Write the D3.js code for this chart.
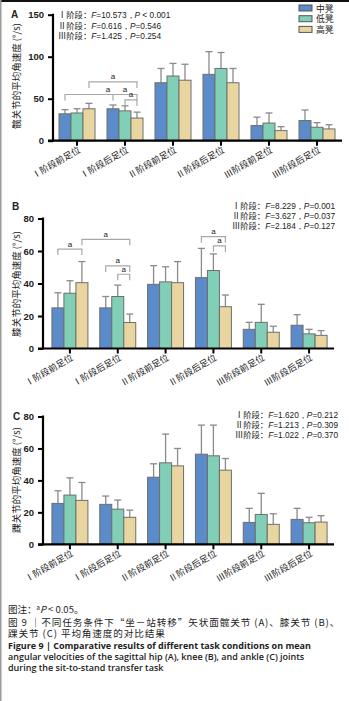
<!DOCTYPE html>
<html>
<head>
<meta charset="utf-8">
<script src="https://cdn.jsdelivr.net/npm/d3@7"></script>
<style>
  html, body { margin: 0; padding: 0; background: #fff; }
  svg { display: block; }
  .cjk { font-family: "Noto Sans CJK SC", "Noto Sans", sans-serif; }
  .num { font-family: "Liberation Sans", Arial, sans-serif; }
</style>
</head>
<body>
<div id="chart-container"></div>
<script>
// categories and groups
var categories = ["Ⅰ阶段前足位", "Ⅰ阶段后足位", "Ⅱ阶段前足位", "Ⅱ阶段后足位", "Ⅲ阶段前足位", "Ⅲ阶段后足位"];
var stools = ["中凳", "低凳", "高凳"];

// A: hip mean angular velocity (°/s), mean and SD
var hipMid = [32, 38, 69, 79, 18, 24];
var hipLow = [33, 35.5, 77, 86, 21, 16];
var hipHigh = [38, 27, 72, 69, 12, 14];
var hipMidSd = [5, 4.5, 17, 27, 10, 12.5];
var hipLowSd = [5, 6, 15, 19, 12, 5.5];
var hipHighSd = [6.5, 7, 19, 17, 4.7, 5];

// B: knee
var kneeMid = [25, 25, 39.5, 43.6, 11.8, 14.3];
var kneeLow = [34, 32, 41, 48, 16.1, 9];
var kneeHigh = [40.5, 16, 40.5, 25.7, 10, 8.1];
var kneeMidSd = [9.3, 7, 11.5, 18, 4.3, 6.5];
var kneeLowSd = [7.7, 7, 9.3, 10.2, 11.1, 2.8];
var kneeHighSd = [13, 5.2, 13, 7.2, 3.7, 2.9];

// C: ankle
var ankleMid = [25.6, 25, 42, 56.4, 13.7, 15.6];
var ankleLow = [30.8, 22, 51, 55.4, 18.7, 13.5];
var ankleHigh = [27.5, 16.9, 49.1, 46.4, 12.5, 13.9];
var ankleMidSd = [7.9, 5.2, 8.4, 18.2, 8.8, 6.9];
var ankleLowSd = [10.8, 5.7, 18, 19.2, 13.2, 3.4];
var ankleHighSd = [11.2, 4.5, 10.9, 7.3, 6.6, 4];

// axis ticks
var hipTicks = [0, 50, 100, 150];
var kneeTicks = [0, 20, 40, 60, 80];
var ankleTicks = [0, 20, 40, 60, 80];

// ANOVA results per stage
var stageNames = ["Ⅰ阶段：", "Ⅱ阶段：", "Ⅲ阶段："];
var hipF = ["10.573", "0.616", "1.425"];
var hipP = [" < 0.001", "=0.546", "=0.254"];
var kneeF = ["8.229", "3.627", "2.184"];
var kneeP = ["=0.001", "=0.037", "=0.127"];
var ankleF = ["1.620", "1.213", "1.022"];
var ankleP = ["=0.212", "=0.309", "=0.370"];

// significance brackets: [category, stool] -> [category, stool], level in data units
var hipSig = [
  {from: [0, 2], to: [1, 2], level: 70, label: "a"},
  {from: [0, 0], to: [1, 0], level: 55, label: "a", labelAt: [1, -0.45]},
  {from: [1, 0], to: [1, 2], level: 55, label: "a", labelAt: [1, 1], noLeftDrop: true},
  {from: [1, 1], to: [1, 2], level: 48.5, label: "a"}
];
var kneeSig = [
  {from: [0, 0], to: [0, 2], level: 61.2, label: "a"},
  {from: [0, 2], to: [1, 2], level: 67.2, label: "a"},
  {from: [1, 0], to: [1, 2], level: 50.8, label: "a"},
  {from: [1, 1], to: [1, 2], level: 45.7, label: "a"},
  {from: [3, 0], to: [3, 2], level: 68.8, label: "a"},
  {from: [3, 1], to: [3, 2], level: 63.1, label: "a"}
];
var ankleSig = [];

var colors = ["#5b8bc9", "#80cfb6", "#e9d5a0"];

var captionLines = [
  "图 9 ｜不同任务条件下“坐－站转移”矢状面髋关节 (A)、膝关节 (B)、",
  "踝关节 (C) 平均角速度的对比结果"
];
var captionEn = [
  "Figure 9  |  Comparative results of different task conditions on mean",
  "angular velocities of the sagittal hip (A), knee (B), and ankle (C) joints",
  "during the sit-to-stand transfer task"
];

var svgWidth = 349, svgHeight = 701;

var svg = d3.select("#chart-container")
  .append("svg")
  .attr("width", svgWidth)
  .attr("height", svgHeight);

// page frame
svg.append("rect").attr("x", 0).attr("y", 0).attr("width", svgWidth).attr("height", 2).attr("fill", "#111");
svg.append("rect").attr("x", 0).attr("y", 0).attr("width", 1.5).attr("height", svgHeight).attr("fill", "#9a9a9a");

function panel(opt) {
  var g = svg.append("g");
  var x0 = d3.scaleBand().domain(categories).range([opt.left, opt.right]);
  var x1 = d3.scaleBand().domain(stools).range([0, 36]);
  var y = d3.scaleLinear().domain(opt.domain).range([opt.bottom, opt.top]);
  var off = (x0.bandwidth() - 36) / 2;
  function cx(ci, si) { return x0(categories[ci]) + off + x1(stools[si]) + x1.bandwidth() / 2; }

  var rows = [];
  categories.forEach(function(c, i) {
    stools.forEach(function(s, j) {
      rows.push({cat: c, stool: s, si: j, mean: opt.means[j][i], sd: opt.sds[j][i]});
    });
  });

  // error bars (upper only)
  var eb = g.append("g").attr("stroke", "#8a8a8a").attr("stroke-width", 1.3);
  eb.selectAll("line.v").data(rows).enter().append("line")
    .attr("x1", function(d) { return x0(d.cat) + off + x1(d.stool) + x1.bandwidth() / 2; })
    .attr("x2", function(d) { return x0(d.cat) + off + x1(d.stool) + x1.bandwidth() / 2; })
    .attr("y1", function(d) { return y(d.mean); })
    .attr("y2", function(d) { return y(d.mean + d.sd); });
  eb.selectAll("line.c").data(rows).enter().append("line")
    .attr("x1", function(d) { return x0(d.cat) + off + x1(d.stool) + x1.bandwidth() / 2 - 3.5; })
    .attr("x2", function(d) { return x0(d.cat) + off + x1(d.stool) + x1.bandwidth() / 2 + 3.5; })
    .attr("y1", function(d) { return y(d.mean + d.sd); })
    .attr("y2", function(d) { return y(d.mean + d.sd); });

  // bars
  g.selectAll("rect.bar").data(rows).enter().append("rect")
    .attr("x", function(d) { return x0(d.cat) + off + x1(d.stool); })
    .attr("y", function(d) { return y(d.mean); })
    .attr("width", x1.bandwidth())
    .attr("height", function(d) { return y(0) - y(d.mean); })
    .attr("fill", function(d) { return colors[d.si]; })
    .attr("stroke", "#6e6e6e")
    .attr("stroke-width", 1);

  // y axis
  var ya = g.append("g")
    .attr("transform", "translate(" + opt.axisX + ",0)")
    .call(d3.axisLeft(y).tickValues(opt.ticks).tickSize(5).tickPadding(4));
  ya.select(".domain").attr("stroke", "#000").attr("stroke-width", 2.2)
    .attr("d", "M0," + (y(0) + 1) + "V" + (opt.top - 1));
  ya.selectAll(".tick line").attr("stroke", "#000").attr("stroke-width", 2);
  ya.selectAll(".tick text").attr("class", "num").attr("font-size", 9.5).attr("font-weight", "bold").attr("fill", "#222");

  // x axis
  var xa = g.append("g")
    .attr("transform", "translate(0," + y(0) + ")")
    .call(d3.axisBottom(x0).tickSize(5).tickFormat(""));
  xa.select(".domain").attr("stroke", "#000").attr("stroke-width", 2.2)
    .attr("d", "M" + (opt.axisX - 5) + ",0H" + (opt.right + 1));
  xa.selectAll(".tick line").attr("stroke", "#000").attr("stroke-width", 2);
  categories.forEach(function(c) {
    g.append("text")
      .attr("class", "cjk")
      .attr("transform", "translate(" + (x0(c) + x0.bandwidth() / 2 + 4) + "," + (y(0) + 11) + ") rotate(-30)")
      .attr("text-anchor", "end")
      .attr("font-size", 9)
      .attr("fill", "#222")
      .text(c);
  });

  // y title
  g.append("text")
    .attr("class", "cjk")
    .attr("transform", "translate(" + opt.titleX + "," + opt.titleY + ") rotate(-90)")
    .attr("text-anchor", "middle")
    .attr("font-size", 9.5)
    .attr("fill", "#222")
    .text(opt.title);

  // panel letter
  g.append("text").attr("class", "num").attr("x", opt.letterX).attr("y", opt.letterY)
    .attr("font-size", 10).attr("font-weight", "bold").attr("fill", "#222").text(opt.letter);

  // stats
  var st = g.append("g").attr("class", "num").attr("font-size", 8.3).attr("fill", "#222");
  stageNames.forEach(function(s, i) {
    var t = st.append("text")
      .attr("x", opt.statX)
      .attr("y", opt.statY + i * opt.statStep)
      .attr("text-anchor", opt.statAnchor);
    t.append("tspan").attr("class", "cjk").attr("font-family", "Noto Sans CJK SC").text(s);
    t.append("tspan").attr("font-style", "italic").text("F");
    t.append("tspan").text("=" + opt.F[i] + "，");
    t.append("tspan").attr("font-style", "italic").text("P");
    t.append("tspan").text(opt.P[i]);
  });

  // significance brackets
  var sg = g.append("g");
  opt.sig.forEach(function(b) {
    var xa1 = cx(b.from[0], b.from[1]), xb = cx(b.to[0], b.to[1]);
    var yl = y(b.level);
    var d = (b.noLeftDrop ? "M" + xa1 + "," + yl : "M" + xa1 + "," + (yl + 6) + "V" + yl) + "H" + xb + "V" + (yl + 6);
    sg.append("path").attr("d", d).attr("fill", "none").attr("stroke", "#a8a8a8").attr("stroke-width", 1.2);
    var lx = b.labelAt ? cx(b.labelAt[0], b.labelAt[1] < 0 ? 0 : b.labelAt[1]) + (b.labelAt[1] < 0 ? -5 : 0) : (xa1 + xb) / 2;
    sg.append("text").attr("class", "num").attr("x", lx).attr("y", yl - 2.5)
      .attr("text-anchor", "middle").attr("font-size", 8).attr("fill", "#222").text(b.label);
  });

  if (opt.legend) {
    var lg = g.append("g");
    stools.forEach(function(s, i) {
      lg.append("rect").attr("x", opt.legend[0]).attr("y", opt.legend[1] + i * 10.7)
        .attr("width", 13).attr("height", 6).attr("fill", colors[i]).attr("stroke", "#555").attr("stroke-width", 1);
      lg.append("text").attr("class", "cjk").attr("x", opt.legend[0] + 17).attr("y", opt.legend[1] + i * 10.7 + 6.5)
        .attr("font-size", 8.8).attr("fill", "#222").text(s);
    });
  }
  return g;
}

panel({
  letter: "A", letterX: 11, letterY: 18,
  left: 53, right: 341, axisX: 53, top: 14.7, bottom: 140.7, domain: [0, 150], ticks: hipTicks,
  means: [hipMid, hipLow, hipHigh], sds: [hipMidSd, hipLowSd, hipHighSd],
  title: "髋关节的平均角速度 (°/s)", titleX: 20, titleY: 76,
  statX: 58, statY: 18, statStep: 10.5, statAnchor: "start", F: hipF, P: hipP,
  sig: hipSig, legend: [299, 5]
});

panel({
  letter: "B", letterX: 12, letterY: 210,
  left: 46, right: 333, axisX: 43, top: 218.5, bottom: 348.5, domain: [0, 80], ticks: kneeTicks,
  means: [kneeMid, kneeLow, kneeHigh], sds: [kneeMidSd, kneeLowSd, kneeHighSd],
  title: "膝关节的平均角速度 (°/s)", titleX: 20, titleY: 284,
  statX: 335, statY: 209, statStep: 10.2, statAnchor: "end", F: kneeF, P: kneeP,
  sig: kneeSig
});

panel({
  letter: "C", letterX: 13, letterY: 420,
  left: 46, right: 333, axisX: 43, top: 416.5, bottom: 544.3, domain: [0, 80], ticks: ankleTicks,
  means: [ankleMid, ankleLow, ankleHigh], sds: [ankleMidSd, ankleLowSd, ankleHighSd],
  title: "踝关节的平均角速度 (°/s)", titleX: 20, titleY: 480,
  statX: 338, statY: 418, statStep: 10.1, statAnchor: "end", F: ankleF, P: ankleP,
  sig: ankleSig
});

// caption
var cap = svg.append("g").attr("fill", "#222");
var note = cap.append("text").attr("class", "cjk").attr("x", 8).attr("y", 613).attr("font-size", 9.5);
note.append("tspan").text("图注：");
note.append("tspan").attr("font-size", 6).attr("dy", -3.5).text("a");
note.append("tspan").attr("font-style", "italic").attr("dy", 3.5).text("P");
note.append("tspan").text(" < 0.05。");
captionLines.forEach(function(t, i) {
  cap.append("text").attr("class", "cjk").attr("x", 8).attr("y", 625.5 + i * 11.7)
    .attr("font-size", 9.6).attr("letter-spacing", 0.9).text(t);
});
captionEn.forEach(function(t, i) {
  cap.append("text").attr("x", 8).attr("y", 648.5 + i * 11.3)
    .attr("font-family", "'Open Sans', sans-serif")
    .attr("font-weight", i === 0 ? "bold" : "600")
    .attr("font-size", 9).text(t);
});
</script>
</body>
</html>
